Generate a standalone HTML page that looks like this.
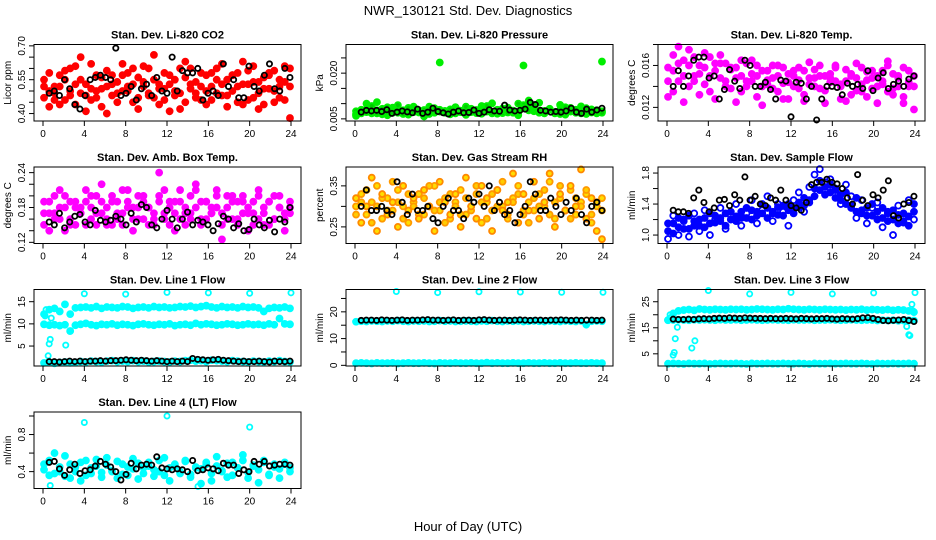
<!DOCTYPE html>
<html><head><meta charset="utf-8"><style>
html,body{margin:0;padding:0;background:#fff;}
svg{display:block;font-family:"Liberation Sans",Arial,sans-serif;}
</style></head><body>
<svg id="chart" width="936" height="540" viewBox="0 0 936 540" xmlns="http://www.w3.org/2000/svg">
<rect width="936" height="540" fill="#fff"/>
<text x="468" y="15" text-anchor="middle" font-size="13">NWR_130121  Std. Dev. Diagnostics</text>
<text x="468" y="531" text-anchor="middle" font-size="13">Hour of Day (UTC)</text>
</svg>
<script>
const xTicks=[0,4,8,12,16,20,24];
// ---- Panel 1 CO2
const co2A=[0.47,0.58,0.52,0.44,0.55,0.50,0.61,0.49,0.53,0.46,0.57,0.51,0.59,0.48,0.54,0.62,0.50,0.45,0.56,0.52,0.60,0.47,0.53,0.58,0.41,0.55,0.49,0.63,0.51,0.54,0.46,0.57,0.52,0.60,0.48,0.55,0.50,0.58,0.44,0.53,0.61,0.49,0.56,0.51,0.59,0.47,0.54,0.52];
const co2B=[0.52,0.43,0.49,0.57,0.46,0.60,0.44,0.55,0.48,0.62,0.50,0.43,0.52,0.57,0.45,0.50,0.58,0.53,0.47,0.61,0.49,0.55,0.44,0.51,0.57,0.48,0.60,0.45,0.53,0.49,0.58,0.50,0.46,0.55,0.62,0.48,0.57,0.45,0.53,0.59,0.47,0.54,0.44,0.58,0.50,0.55,0.46,0.60];
const co2C=[0.55,0.50,0.46,0.52,0.59,0.48,0.53,0.65,0.41,0.51,0.47,0.56,0.40,0.53,0.49,0.57,0.52,0.60,0.42,0.54,0.48,0.66,0.51,0.46,0.53,0.50,0.42,0.56,0.60,0.47,0.52,0.44,0.58,0.49,0.53,0.43,0.57,0.52,0.63,0.46,0.54,0.42,0.51,0.57,0.45,0.52,0.61,0.38];
const co2K=[0.49,0.50,0.48,0.55,0.51,0.44,0.42,0.48,0.55,0.56,0.57,0.56,0.55,0.69,0.48,0.49,0.52,0.46,0.51,0.53,0.48,0.56,0.50,0.49,0.65,0.50,0.59,0.58,0.58,0.60,0.46,0.49,0.50,0.48,0.62,0.52,0.55,0.47,0.47,0.61,0.52,0.50,0.57,0.62,0.51,0.50,0.60,0.56];
// ---- Panel 2 Pressure
const prA=[.0075,.0068,.0082,.0070,.0078,.0065,.0088,.0072,.0080,.0069,.0076,.0083,.0071,.0079,.0066,.0085,.0074,.0070,.0081,.0068,.0077,.0090,.0072,.0079,.0067,.0084,.0073,.0080,.0069,.0087,.0075,.0071,.0095,.0078,.0082,.0070,.0076,.0083,.0068,.0079,.0073,.0086,.0070,.0078,.0072,.0081,.0068,.0075];
const prB=[.0065,.0080,.0072,.0092,.0068,.0083,.0075,.0070,.0095,.0066,.0086,.0072,.0078,.0068,.0090,.0071,.0080,.0074,.0066,.0088,.0073,.0069,.0083,.0076,.0070,.0092,.0068,.0078,.0084,.0071,.0077,.0100,.0085,.0110,.0095,.0076,.0069,.0082,.0072,.0066,.0088,.0074,.0080,.0068,.0085,.0071,.0078,.0070];
const prC=[.0060,.0074,.0100,.0068,.0105,.0071,.0062,.0087,.0070,.0078,.0064,.0090,.0073,.0058,.0082,.0070,.0235,.0076,.0065,.0088,.0072,.0063,.0080,.0069,.0092,.0074,.0101,.0067,.0078,.0086,.0070,.0062,.0225,.0094,.0075,.0103,.0068,.0080,.0072,.0096,.0064,.0085,.0071,.0091,.0066,.0079,.0073,.0238];
const prK=[.0072,.0078,.0076,.0078,.0074,.0080,.0068,.0072,.0076,.0073,.0070,.0082,.0068,.0072,.0085,.0074,.0070,.0066,.0072,.0076,.0070,.0071,.0079,.0068,.0072,.0080,.0076,.0075,.0095,.0079,.0076,.0078,.0082,.0104,.0097,.0078,.0076,.0072,.0074,.0072,.0076,.0085,.0072,.0068,.0082,.0072,.0079,.0085];
// ---- Panel 3 Li-820 Temp
const ltA=[.0158,.0170,.0145,.0165,.0175,.0150,.0160,.0142,.0168,.0155,.0148,.0162,.0138,.0158,.0165,.0145,.0152,.0160,.0140,.0155,.0148,.0135,.0158,.0144,.0150,.0138,.0155,.0142,.0148,.0160,.0136,.0152,.0145,.0140,.0156,.0132,.0148,.0142,.0154,.0138,.0150,.0145,.0135,.0152,.0140,.0158,.0144,.0150];
const ltB=[.0145,.0135,.0162,.0150,.0140,.0168,.0152,.0158,.0135,.0162,.0170,.0140,.0158,.0148,.0135,.0162,.0145,.0130,.0155,.0142,.0160,.0150,.0128,.0152,.0140,.0158,.0132,.0148,.0156,.0138,.0150,.0144,.0158,.0128,.0145,.0152,.0136,.0158,.0130,.0148,.0140,.0155,.0160,.0138,.0150,.0130,.0155,.0140];
const ltC=[.0130,.0155,.0178,.0125,.0160,.0145,.0132,.0172,.0150,.0128,.0162,.0145,.0156,.0125,.0150,.0140,.0165,.0150,.0122,.0146,.0138,.0160,.0143,.0128,.0155,.0146,.0126,.0163,.0140,.0150,.0124,.0148,.0160,.0142,.0126,.0150,.0162,.0135,.0146,.0155,.0124,.0142,.0164,.0132,.0148,.0124,.0140,.0118];
const ltK=[.0140,.0155,.0140,.0150,.0165,.0168,.0168,.0148,.0150,.0128,.0137,.0156,.0145,.0138,.0165,.0160,.0140,.0140,.0144,.0137,.0128,.0146,.0145,.0111,.0144,.0143,.0128,.0140,.0108,.0128,.0140,.0140,.0139,.0132,.0143,.0140,.0142,.0138,.0155,.0136,.0148,.0153,.0138,.0142,.0145,.0140,.0147,.0150];
// ---- Panel 4 Amb Box Temp
const btA=[.17,.19,.16,.18,.20,.15,.18,.17,.19,.16,.20,.17,.18,.15,.19,.17,.21,.16,.18,.19,.15,.17,.20,.16,.18,.17,.19,.15,.20,.18,.16,.19,.17,.18,.15,.20,.16,.19,.17,.18,.15,.20,.17,.19,.16,.18,.17,.19];
const btB=[.15,.17,.20,.16,.18,.19,.15,.17,.21,.18,.15,.19,.16,.20,.17,.15,.19,.18,.16,.20,.18,.16,.19,.21,.15,.19,.16,.18,.17,.21,.19,.16,.18,.20,.17,.16,.19,.15,.20,.17,.19,.16,.18,.15,.20,.18,.16,.17];
const btC=[.19,.14,.17,.21,.14,.16,.19,.18,.15,.20,.17,.22,.15,.19,.16,.21,.18,.14,.20,.16,.18,.15,.24,.17,.19,.14,.21,.17,.16,.22,.15,.19,.17,.21,.125,.18,.20,.16,.19,.14,.17,.21,.15,.19,.16,.20,.14,.18];
const btK=[.155,.150,.170,.145,.155,.165,.168,.155,.150,.175,.158,.155,.158,.165,.160,.150,.170,.155,.185,.180,.150,.145,.160,.175,.160,.145,.160,.172,.150,.158,.155,.150,.140,.152,.165,.160,.145,.152,.140,.142,.160,.150,.145,.158,.138,.160,.155,.180];
// ---- Panel 5 Gas Stream RH
const rhA=[.30,.33,.28,.31,.35,.27,.32,.29,.34,.30,.26,.31,.33,.28,.30,.35,.29,.32,.27,.31,.34,.28,.30,.33,.26,.31,.29,.34,.30,.27,.32,.35,.28,.31,.29,.33,.30,.36,.27,.32,.29,.34,.28,.31,.33,.26,.30,.32];
const rhB=[.28,.31,.34,.26,.30,.32,.29,.36,.31,.27,.33,.30,.28,.32,.35,.29,.31,.26,.33,.30,.28,.32,.29,.35,.31,.27,.33,.30,.36,.28,.31,.33,.29,.26,.32,.30,.34,.28,.31,.35,.29,.27,.32,.30,.34,.28,.31,.29];
const rhC=[.32,.26,.30,.37,.24,.33,.28,.31,.25,.35,.29,.32,.27,.34,.30,.24,.36,.31,.28,.33,.25,.37,.30,.27,.35,.32,.24,.34,.29,.31,.38,.26,.33,.29,.36,.27,.31,.38,.25,.33,.29,.35,.30,.39,.27,.32,.24,.22];
const rhK=[.30,.34,.29,.29,.30,.29,.28,.36,.31,.28,.33,.29,.29,.30,.27,.26,.30,.32,.29,.29,.27,.32,.31,.33,.30,.35,.29,.31,.28,.29,.26,.28,.30,.36,.33,.29,.29,.32,.30,.28,.31,.29,.32,.28,.26,.30,.31,.29];
// ---- Panel 6 Sample Flow
const sfA=[1.05,1.15,1.10,1.20,1.08,1.18,1.12,1.22,1.15,1.25,1.18,1.28,1.20,1.24,1.30,1.22,1.32,1.25,1.28,1.35,1.30,1.26,1.38,1.32,1.35,1.42,1.38,1.45,1.50,1.58,1.62,1.55,1.48,1.52,1.40,1.35,1.30,1.28,1.35,1.25,1.30,1.22,1.28,1.20,1.26,1.18,1.24,1.30];
const sfB=[1.15,1.02,1.22,1.08,1.25,1.12,1.20,1.10,1.28,1.16,1.22,1.12,1.30,1.18,1.22,1.35,1.20,1.30,1.40,1.22,1.28,1.36,1.25,1.40,1.28,1.36,1.48,1.42,1.60,1.70,1.52,1.65,1.58,1.45,1.55,1.38,1.48,1.32,1.25,1.40,1.20,1.35,1.18,1.32,1.15,1.28,1.12,1.40];
const sfC=[0.95,1.25,1.00,1.18,0.98,1.28,1.05,1.32,1.00,1.20,1.35,1.08,1.25,1.40,1.12,1.28,1.45,1.15,1.32,1.50,1.18,1.40,1.30,1.12,1.45,1.55,1.30,1.62,1.78,1.85,1.68,1.72,1.60,1.40,1.65,1.50,1.22,1.45,1.15,1.35,1.42,1.10,1.30,1.00,1.38,1.16,1.45,1.20];
const sfK=[1.32,1.30,1.30,1.28,1.48,1.58,1.42,1.30,1.35,1.45,1.46,1.38,1.52,1.45,1.75,1.45,1.50,1.40,1.38,1.48,1.45,1.58,1.45,1.38,1.35,1.32,1.42,1.65,1.68,1.68,1.72,1.68,1.66,1.60,1.48,1.40,1.78,1.45,1.38,1.52,1.48,1.58,1.70,1.25,1.22,1.40,1.42,1.50];
// ---- Panel 7 Line 1 Flow
const l1Top=[12.2,13.2,13.5,12.8,14.4,12.2,13.6,13.7,13.8,13.6,13.9,13.5,13.8,13.7,13.6,13.9,13.8,13.5,13.7,13.8,13.6,13.9,13.7,13.8,13.6,13.7,13.9,13.8,14.0,13.7,13.9,14.1,13.8,13.6,13.9,13.7,13.8,13.6,13.9,13.7,13.8,13.6,12.8,13.5,13.7,13.6,13.8,13.5];
const l1Mid=[9.9,9.7,9.8,9.6,9.8,8.4,9.7,9.9,10.1,9.8,9.6,9.9,9.8,10.0,9.7,9.9,9.8,9.6,9.9,10.0,9.8,9.7,9.9,9.8,10.0,9.6,9.8,9.9,9.7,10.1,9.8,10.0,9.9,9.7,9.8,10.0,9.9,9.7,9.8,10.0,9.8,9.9,9.7,10.0,9.8,11.2,10.0,9.9];
const l1Low=[1.2,1.3,1.1,1.3,1.4,1.2,1.3,1.5,1.4,1.6,1.5,1.4,1.6,1.7,1.5,1.6,1.5,1.7,1.5,1.6,1.4,1.5,1.6,1.5,1.4,1.6,1.5,1.7,1.8,1.6,1.7,1.5,1.8,1.7,1.6,1.5,1.7,1.6,1.5,1.4,1.6,1.5,1.4,1.6,1.5,1.7,1.5,1.4];
const l1OutT=[0.2,0.3,0.5,0.6,0.7,0.8,2.2,2.6,4,8,12,16,20,24];
const l1OutV=[11.8,13.2,2.8,5.5,6.5,11.3,5.2,8.3,16.8,16.7,17.1,17.0,16.9,17.0];
const l1K=[1.5,1.5,1.4,1.5,1.6,1.5,1.6,1.5,1.6,1.6,1.7,1.6,1.7,1.7,1.8,1.9,1.8,1.7,1.8,1.7,1.6,1.7,1.6,1.5,1.6,1.5,1.6,1.5,2.2,2.0,1.9,1.8,1.9,2.0,1.8,1.7,1.6,1.5,1.6,1.5,1.5,1.6,1.5,1.4,1.6,1.5,1.5,1.6];
// ---- Panel 8 Line 2 Flow
const l2Top=[16.3,16.5,16.4,16.6,16.5,16.4,16.6,16.5,16.7,16.5,16.4,16.6,16.5,16.6,16.4,16.5,16.7,16.5,16.6,16.4,16.5,16.6,16.5,16.4,16.6,16.5,16.7,16.5,16.4,16.6,16.5,16.6,16.4,16.5,16.6,16.5,16.4,16.6,16.5,16.4,16.6,16.5,16.4,16.6,15.2,16.5,16.6,16.5];
const l2Low=[0.8,0.9,0.8,0.7,0.9,0.8,0.8,0.9,0.7,0.8,0.9,0.8,0.8,0.9,0.8,0.7,0.9,0.8,0.8,0.9,0.8,0.8,0.9,0.8,0.8,1.0,0.8,0.9,0.8,0.8,0.9,0.8,0.8,0.9,0.8,0.8,0.9,0.8,0.8,0.9,0.8,0.8,0.9,0.8,0.8,0.9,0.8,0.8];
const l2OutT=[4,8,12,16,20,24];
const l2OutV=[27.6,27.2,27.5,27.4,27.3,27.3];
const l2K=[16.8,16.9,16.9,16.8,17.0,16.9,16.8,16.9,17.0,16.8,16.9,16.9,17.0,17.1,16.9,16.9,16.8,16.9,17.0,16.8,16.9,16.9,16.8,17.0,17.1,16.9,16.8,16.9,16.9,16.8,16.9,17.0,16.9,16.8,16.9,16.9,16.8,16.9,16.9,17.0,16.9,16.8,16.9,16.8,16.9,16.9,16.8,16.9];
// ---- Panel 9 Line 3 Flow
const l3Top=[18.0,20.5,21.5,21.8,22.0,21.7,22.2,22.0,21.9,22.1,22.0,21.9,22.1,22.0,22.1,21.9,22.0,22.2,22.1,22.0,21.9,22.1,22.0,22.3,22.1,22.0,21.9,22.1,22.0,21.9,22.1,22.0,21.9,22.0,21.8,22.0,21.9,22.1,21.8,22.0,21.9,21.8,22.0,21.7,21.9,21.8,21.5,21.0];
const l3Mid=[17.9,18.0,18.1,18.0,17.9,18.1,18.0,18.1,18.0,17.9,18.1,18.0,18.0,18.1,17.9,18.0,18.1,18.0,17.9,18.0,18.1,18.0,18.0,17.9,18.1,18.0,18.0,18.1,17.9,18.0,18.0,18.1,18.0,17.9,18.0,18.1,18.0,17.9,18.0,18.0,17.8,17.9,17.8,17.9,17.7,17.8,17.9,17.8];
const l3Low=[1.2,1.3,1.2,1.1,1.3,1.2,1.2,1.3,1.1,1.2,1.3,1.2,1.2,1.3,1.2,1.1,1.3,1.2,1.2,1.3,1.2,1.2,1.3,1.2,1.2,1.3,1.2,1.1,1.3,1.2,1.2,1.3,1.2,1.2,1.3,1.2,1.2,1.3,1.2,1.1,1.3,1.2,1.2,1.3,1.2,1.2,1.3,1.2];
const l3OutT=[0.3,0.4,0.6,0.7,0.8,1.0,2.4,2.7,4,8,12,16,20,23.2,23.4,23.5,23.7,23.8,24];
const l3OutV=[20.0,19.0,4.5,5.5,10.8,15.2,7.2,10.0,29.3,28.0,28.6,28.0,28.4,15.5,12.3,12.0,24.0,21.5,28.5];
const l3K=[18.3,18.2,18.2,18.3,18.2,18.4,18.5,18.4,18.6,18.7,18.6,18.8,18.7,18.6,18.8,18.7,18.6,18.6,18.5,18.6,18.5,18.5,18.6,18.5,18.4,18.6,18.5,18.4,18.5,18.5,18.6,18.4,18.3,18.5,18.4,18.3,18.5,18.8,18.9,18.6,18.2,17.8,17.7,17.9,18.0,18.2,17.8,17.4];
// ---- Panel 10 Line 4 (LT) Flow
const l4A=[0.42,0.52,0.38,0.45,0.35,0.48,0.40,0.50,0.36,0.44,0.53,0.39,0.47,0.41,0.51,0.37,0.45,0.43,0.49,0.38,0.46,0.42,0.52,0.36,0.44,0.48,0.40,0.51,0.37,0.45,0.43,0.50,0.38,0.46,0.41,0.49,0.36,0.44,0.52,0.39,0.47,0.42,0.50,0.37,0.45,0.43,0.48,0.44];
const l4B=[0.48,0.36,0.60,0.40,0.57,0.33,0.45,0.30,0.52,0.38,0.46,0.34,0.55,0.40,0.33,0.48,0.36,0.54,0.32,0.44,0.50,0.35,0.40,0.55,0.30,0.46,0.38,0.52,0.34,0.44,0.27,0.48,0.30,0.56,0.40,0.34,0.50,0.44,0.58,0.33,0.46,0.28,0.52,0.36,0.48,0.33,0.50,0.40];
const l4OutT=[0.7,4,12,15,20];
const l4OutV=[0.25,0.93,1.0,0.24,0.88];
const l4K=[0.50,0.51,0.43,0.36,0.42,0.48,0.38,0.41,0.42,0.46,0.51,0.48,0.45,0.40,0.31,0.37,0.49,0.43,0.47,0.48,0.47,0.56,0.44,0.43,0.42,0.43,0.42,0.40,0.52,0.41,0.42,0.44,0.43,0.41,0.49,0.47,0.47,0.38,0.42,0.40,0.51,0.48,0.51,0.46,0.47,0.48,0.48,0.47];

const panels=[
 {name:'co2',title:'Stan. Dev. Li-820 CO2',ylab:'Licor ppm',lo:0.367,hi:0.706,ticks:[0.40,0.45,0.50,0.55,0.60,0.65,0.70],labels:['0.40','','','0.55','','','0.70'],
  series:[[co2A,'#ff0000','#ff0000'],[co2B,'#ff0000','#ff0000'],[co2C,'#ff0000','#ff0000']],out:null,black:co2K},
 {name:'pressure',title:'Stan. Dev. Li-820 Pressure',ylab:'kPa',lo:0.0043,hi:0.0294,ticks:[0.005,0.010,0.015,0.020,0.025],labels:['0.005','','','0.020',''],
  series:[[prA,'#00ee00','#00cc00'],[prB,'#00ee00','#00cc00'],[prC,'#00ee00','#00ee00']],out:null,black:prK},
 {name:'li820-temp',title:'Stan. Dev. Li-820 Temp.',ylab:'degrees C',lo:0.0107,hi:0.0180,ticks:[0.012,0.014,0.016,0.018],labels:['0.012','','0.016',''],
  series:[[ltA,'#ff00ff','#ff00ff'],[ltB,'#ff00ff','#ff00ff'],[ltC,'#ff00ff','#ff00ff']],out:null,black:ltK},
 {name:'box-temp',title:'Stan. Dev. Amb. Box Temp.',ylab:'degrees C',lo:0.118,hi:0.2497,ticks:[0.12,0.14,0.16,0.18,0.20,0.22,0.24],labels:['0.12','','','0.18','','','0.24'],
  series:[[btA,'#ff00ff','#ff00ff'],[btB,'#ff00ff','#ff00ff'],[btC,'#ff00ff','#ff00ff']],out:null,black:btK},
 {name:'gas-rh',title:'Stan. Dev. Gas Stream RH',ylab:'percent',lo:0.2095,hi:0.396,ticks:[0.25,0.30,0.35],labels:['0.25','','0.35'],
  series:[[rhA,'#ff9900','#ffdd00'],[rhB,'#ff9900','#ffcc00'],[rhC,'#ff8800','#ffdd00']],out:null,black:rhK},
 {name:'sample-flow',title:'Stan. Dev. Sample Flow',ylab:'ml/min',lo:0.891,hi:1.878,ticks:[1.0,1.2,1.4,1.6,1.8],labels:['1.0','','1.4','','1.8'],
  series:[[sfA,'#0000ff','#0000ff'],[sfB,'#0000ff','#0000ff'],[sfC,'#0000ff','none']],out:null,black:sfK},
 {name:'line1-flow',title:'Stan. Dev. Line 1 Flow',ylab:'ml/min',lo:0.5,hi:17.75,ticks:[5,10,15],labels:['5','10','15'],
  series:[[l1Top,'#00ffff','#00ffff'],[l1Mid,'#00ffff','#00ffff'],[l1Low,'#00ffff','#00ffff']],out:[l1OutT,l1OutV],black:l1K},
 {name:'line2-flow',title:'Stan. Dev. Line 2 Flow',ylab:'ml/min',lo:-0.25,hi:28.35,ticks:[0,5,10,15,20,25],labels:['0','','10','','20',''],
  series:[[l2Top,'#00ffff','#00ffff'],[l2Low,'#00ffff','#00ffff']],out:[l2OutT,l2OutV],black:l2K},
 {name:'line3-flow',title:'Stan. Dev. Line 3 Flow',ylab:'ml/min',lo:0.32,hi:29.7,ticks:[5,10,15,20,25],labels:['5','','15','','25'],
  series:[[l3Top,'#00ffff','#00ffff'],[l3Mid,'#00ffff','#00ffff'],[l3Low,'#00ffff','#00ffff']],out:[l3OutT,l3OutV],black:l3K},
 {name:'line4-flow',title:'Stan. Dev. Line 4 (LT) Flow',ylab:'ml/min',lo:0.218,hi:1.043,ticks:[0.4,0.6,0.8,1.0],labels:['0.4','','0.8',''],
  series:[[l4A,'#00ffff','#00ffff'],[l4B,'#00ffff','#00ffff']],out:[l4OutT,l4OutV],black:l4K}
];

const NS='http://www.w3.org/2000/svg';
const svg=document.getElementById('chart');
function mk(tag,attrs,parent){const e=document.createElementNS(NS,tag);for(const k in attrs)e.setAttribute(k,attrs[k]);(parent||svg).appendChild(e);return e;}

panels.forEach((p,idx)=>{
  const c=idx%3, r=Math.floor(idx/3);
  const bx0=34+312*c, bx1=301+312*c;
  const by0=44.5+122.5*r, by1=by0+76.5;
  const xs=h=>43+312*c+(h/24)*248;
  const ys=v=>by1-(v-p.lo)/(p.hi-p.lo)*(by1-by0);
  const g=mk('g',{});
  
  
  const t=mk('text',{x:(bx0+bx1)/2,y:by0-6,'text-anchor':'middle','font-size':11,'font-weight':'bold'},g);
  t.textContent=p.title;
  
  
  const yl=mk('text',{x:0,y:0,'text-anchor':'middle','font-size':10,transform:`translate(${bx0-23},${(by0+by1)/2}) rotate(-90)`},g);
  yl.textContent=p.ylab;
  
  
  const pts=mk('g',{'stroke-width':1.8},g);
  
  
  p.series.forEach(([vals,col,fill])=>{
    vals.forEach((v,i)=>{
      const h=0.1+i*(23.8/(vals.length-1));
      const cc=mk('circle',{cx:xs(h),cy:ys(v),r:3,stroke:col,fill:fill},pts);
      
      
    });
  });
  if(p.out){
    const col=p.series[0][1];
    p.out[0].forEach((h,i)=>{
      const cc=mk('circle',{cx:xs(h),cy:ys(p.out[1][i]),r:2.6,stroke:col,fill:'none'},pts);
      
      
    });
  }
  p.black.forEach((v,i)=>{
    const h=0.6+i*(23.3/(p.black.length-1));
    const cc=mk('circle',{cx:xs(h),cy:ys(v),r:2.6,stroke:'#000',fill:'none'},pts);
    
    
  });
  const b=mk('rect',{x:bx0,y:by0,width:bx1-bx0,height:by1-by0,fill:'none',stroke:'#000','stroke-width':1},g);
  
  
  xTicks.forEach(h=>{
    const x=xs(h);
    mk('line',{x1:x,y1:by1,x2:x,y2:by1+5,stroke:'#000'},g);
    const tl=mk('text',{x:x,y:by1+16,'text-anchor':'middle','font-size':10},g);
    tl.textContent=h;
    
    
  });
  p.ticks.forEach((v,i)=>{
    const y=ys(v);
    mk('line',{x1:bx0-5,y1:y,x2:bx0,y2:y,stroke:'#000'},g);
    if(p.labels[i]){
      const tl=mk('text',{x:0,y:0,'text-anchor':'middle','font-size':10,transform:`translate(${bx0-9},${y}) rotate(-90)`},g);
      tl.textContent=p.labels[i];
      
      
    }
  });
});
</script>
</body></html>
